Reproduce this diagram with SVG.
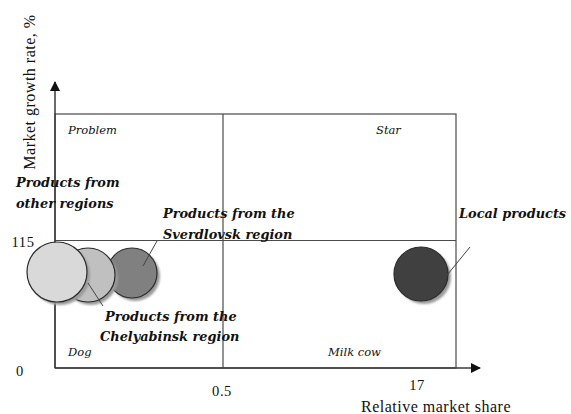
<svg xmlns="http://www.w3.org/2000/svg" width="571" height="414" viewBox="0 0 571 414">
<style>
text{font-family:"Liberation Serif","Times New Roman",serif}
.ax{stroke:#3a3a3a;stroke-width:1.5;fill:none}
.gr{stroke:#4a4a4a;stroke-width:1.2;fill:none}
.ld{stroke:#444;stroke-width:1}
.num{font-size:14.5px;fill:#111;letter-spacing:0.6px}
.ttl{font-size:16px;fill:#111;letter-spacing:0.5px}
.q{font-family:"DejaVu Serif",serif;font-size:11.5px;font-style:italic;fill:#111}
.lb{font-family:"DejaVu Serif",serif;font-size:12.9px;font-style:italic;font-weight:bold;fill:#111}
.c{stroke:#2a2a2a;stroke-width:1.2}
.sh{fill:#9a9a9a;filter:url(#bl)}
</style>
<defs>
<marker id="ah" viewBox="0 0 10 10" refX="9" refY="5" markerWidth="10" markerHeight="10" markerUnits="userSpaceOnUse" orient="auto">
<path d="M0,0 L10,5 L0,10 Z" fill="#111"/>
</marker>
<filter id="bl" x="-20%" y="-20%" width="140%" height="140%"><feGaussianBlur stdDeviation="1"/></filter>
</defs>
<rect width="571" height="414" fill="#fff"/>
<g id="grid">
<rect x="55" y="114" width="401" height="254" class="gr"/>
<line x1="223" y1="114" x2="223" y2="368" class="gr"/>
<line x1="55" y1="240.5" x2="456" y2="240.5" class="gr"/>
</g>
<g id="axes">
<line x1="55" y1="368" x2="55" y2="82" class="ax" marker-end="url(#ah)"/>
<line x1="55" y1="368" x2="480" y2="368" class="ax" marker-end="url(#ah)"/>
</g>
<g id="axis-labels">
<text class="ttl" text-anchor="middle" transform="translate(35,92) rotate(-90)">Market growth rate, %</text>
<text class="ttl" x="436" y="412" text-anchor="middle">Relative market share</text>
<text class="num" x="23" y="247" text-anchor="middle">115</text>
<text class="num" x="20" y="376" text-anchor="middle">0</text>
<text class="num" x="222" y="396" text-anchor="middle">0.5</text>
<text class="num" x="417" y="390" text-anchor="middle">17</text>
</g>
<g id="quadrants">
<text class="q" x="68" y="134">Problem</text>
<text class="q" x="376" y="134">Star</text>
<text class="q" x="68" y="356">Dog</text>
<text class="q" x="328" y="356">Milk cow</text>
</g>
<g id="sverdlovsk">
<circle cx="135" cy="276" r="25" class="sh"/>
<circle cx="132" cy="273" r="25" fill="#808080" class="c"/>
</g>
<g id="chelyabinsk">
<circle cx="91" cy="278" r="27" class="sh"/>
<circle cx="88" cy="275" r="27" fill="#c0c0c0" class="c"/>
</g>
<g id="other-regions">
<circle cx="60" cy="275" r="30" class="sh"/>
<circle cx="57" cy="272" r="30" fill="#d9d9d9" class="c"/>
</g>
<g id="local">
<circle cx="424" cy="277" r="27" class="sh"/>
<circle cx="421" cy="274" r="27" fill="#404040" class="c"/>
</g>
<g id="connectors">
<line x1="143" y1="266" x2="157" y2="241" class="ld"/>
<line x1="88" y1="283" x2="103" y2="306" class="ld"/>
<line x1="439" y1="285" x2="470" y2="247" class="ld"/>
</g>
<g id="labels">
<text class="lb" x="16" y="187">Products from</text>
<text class="lb" x="16" y="208">other regions</text>
<text class="lb" x="163" y="218">Products from the</text>
<text class="lb" x="163" y="239">Sverdlovsk region</text>
<text class="lb" x="105" y="321">Products from the</text>
<text class="lb" x="100" y="341">Chelyabinsk region</text>
<text class="lb" x="459" y="218">Local products</text>
</g>
</svg>
